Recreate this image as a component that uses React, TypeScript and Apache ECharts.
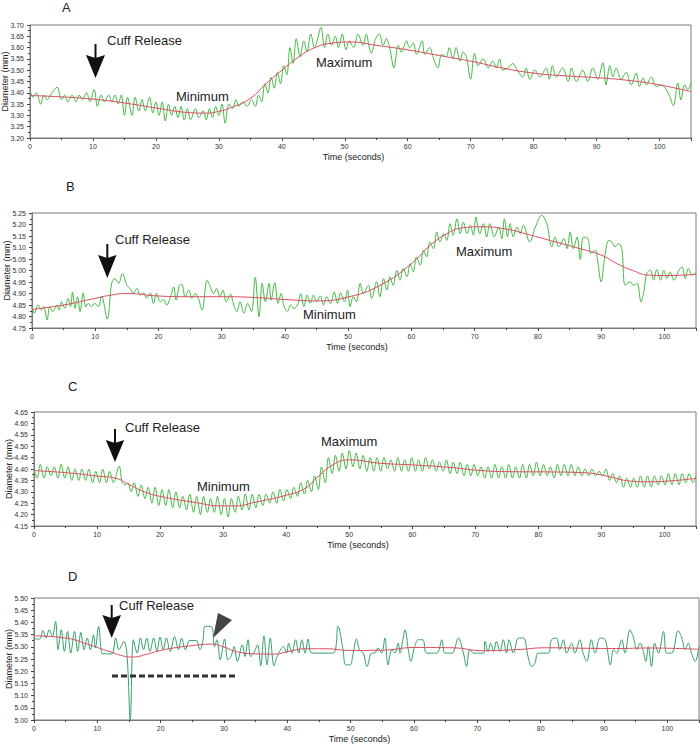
import React, { useEffect, useRef } from "react";
import * as echarts from "echarts";

const FONT = '"Liberation Sans", Arial, Helvetica, sans-serif';

// Panel letters and annotation labels
const panelLetters = ["A", "B", "C", "D"];
const cuffLabel = "Cuff Release";
const minLabel = "Minimum";
const maxLabel = "Maximum";
const xName = "Time (seconds)";
const yName = "Diameter (mm)";

// Axis ranges (mm)
const yMins = [3.2, 4.75, 4.15, 5.0];
const yMaxs = [3.7, 5.25, 4.65, 5.5];
const yStep = 0.05;
const xMax = 105;
const xStep = 10;

// Panel A
const greenA: [number, number][] = [
  [0, 3.41], [0.5, 3.38], [1, 3.4], [1.7, 3.35], [2.2, 3.39], [2.7, 3.37], [3.5, 3.4], [4.3, 3.425], [5, 3.37], [5.5, 3.39],
  [6, 3.36], [6.7, 3.39], [7.3, 3.36], [7.8, 3.39], [8.3, 3.37], [9, 3.4], [9.5, 3.36], [10.2, 3.415], [10.7, 3.34], [11.3, 3.39],
  [11.8, 3.36], [12.5, 3.39], [13, 3.36], [13.5, 3.39], [14, 3.35], [14.5, 3.39], [15, 3.3], [15.5, 3.38], [16.2, 3.3], [16.7, 3.38],
  [17.3, 3.32], [17.8, 3.37], [18.3, 3.32], [19, 3.38], [19.5, 3.31], [20, 3.36], [20.5, 3.3], [21, 3.36], [21.5, 3.275], [22, 3.35],
  [22.5, 3.3], [23, 3.34], [23.5, 3.29], [24, 3.34], [24.5, 3.28], [25, 3.33], [25.5, 3.28], [26.3, 3.33], [26.8, 3.29], [27.5, 3.32],
  [28, 3.28], [28.5, 3.33], [29, 3.29], [29.5, 3.34], [30, 3.3], [30.5, 3.35], [31, 3.265], [31.6, 3.35], [32.2, 3.33], [32.7, 3.37],
  [33.2, 3.34], [33.8, 3.36], [34.5, 3.34], [35.2, 3.37], [35.8, 3.34], [36.3, 3.39], [36.8, 3.36], [37.3, 3.44], [37.8, 3.4], [38.3, 3.47],
  [38.8, 3.42], [39.3, 3.49], [39.8, 3.44], [40.3, 3.52], [40.8, 3.48], [41.3, 3.6], [41.8, 3.53], [42.3, 3.64], [42.9, 3.56], [43.5, 3.63],
  [44, 3.58], [44.6, 3.66], [45.2, 3.6], [45.7, 3.64], [46.2, 3.69], [46.8, 3.6], [47.3, 3.66], [47.9, 3.61], [48.5, 3.65], [49, 3.6],
  [49.6, 3.66], [50.2, 3.59], [50.7, 3.63], [51.4, 3.6], [52.1, 3.66], [52.9, 3.61], [53.4, 3.66], [53.9, 3.6], [54.2, 3.575], [54.9, 3.64],
  [55.5, 3.66], [56.1, 3.61], [56.6, 3.64], [57.2, 3.59], [57.8, 3.51], [58.5, 3.61], [59, 3.58], [59.8, 3.63], [60.3, 3.6], [60.9, 3.62],
  [61.4, 3.57], [62.3, 3.63], [62.7, 3.57], [63.5, 3.6], [64, 3.56], [64.8, 3.51], [65.4, 3.57], [66.1, 3.56], [66.6, 3.6], [67.2, 3.55],
  [67.7, 3.6], [68.3, 3.54], [68.8, 3.58], [69.3, 3.56], [70, 3.46], [70.6, 3.575], [71.2, 3.52], [72, 3.55], [72.8, 3.51], [73.5, 3.54],
  [74.1, 3.51], [74.6, 3.55], [75.1, 3.5], [75.9, 3.51], [76.7, 3.53], [77.2, 3.51], [78.3, 3.47], [78.8, 3.51], [79.4, 3.46], [80.2, 3.5],
  [81, 3.47], [82, 3.51], [82.5, 3.46], [83, 3.52], [83.6, 3.47], [84.6, 3.51], [85.5, 3.45], [86, 3.51], [86.8, 3.45], [87.8, 3.5],
  [88.6, 3.45], [89.4, 3.51], [90.2, 3.46], [91, 3.534], [91.5, 3.435], [92.1, 3.52], [92.6, 3.47], [93.1, 3.51], [93.9, 3.46], [94.7, 3.49],
  [95.5, 3.435], [96.3, 3.487], [96.8, 3.428], [97.4, 3.465], [97.9, 3.435], [98.7, 3.47], [99.5, 3.428], [100.3, 3.435], [101.1, 3.413], [101.6, 3.384],
  [102.2, 3.343], [102.9, 3.443], [103.4, 3.369], [104, 3.435], [104.5, 3.413], [105, 3.446],
];
const redA: [number, number][] = [
  [0, 3.388], [5, 3.382], [10, 3.372], [15, 3.355], [20, 3.333], [25, 3.313], [28, 3.31], [30, 3.318], [32, 3.335], [35, 3.375],
  [37.5, 3.44], [40, 3.5], [42.5, 3.555], [45, 3.597], [48, 3.62], [51, 3.625], [55, 3.61], [60, 3.59], [65, 3.565], [70, 3.54],
  [75, 3.51], [80, 3.487], [85, 3.475], [90, 3.467], [95, 3.455], [100, 3.435], [105, 3.405],
];

// Panel B
const greenB: [number, number][] = [
  [0, 4.843], [0.4, 4.814], [0.95, 4.85], [1.5, 4.828], [1.85, 4.843], [2.4, 4.785], [2.8, 4.843], [3.3, 4.821], [3.9, 4.85], [4.3, 4.828],
  [4.65, 4.864], [5.2, 4.835], [5.7, 4.879], [6.1, 4.843], [6.4, 4.907], [6.8, 4.835], [7.2, 4.886], [7.6, 4.821], [8.1, 4.903], [8.5, 4.843],
  [8.9, 4.857], [9.4, 4.843], [9.9, 4.857], [10.5, 4.843], [11, 4.889], [11.9, 4.789], [12.6, 4.944], [13.1, 4.965], [13.7, 4.944], [14.3, 4.987],
  [15, 4.936], [15.6, 4.918], [16, 4.9], [16.6, 4.922], [17.1, 4.893], [17.7, 4.903], [18.1, 4.879], [18.7, 4.903], [19.2, 4.857], [19.7, 4.9],
  [20.3, 4.864], [20.8, 4.874], [21.3, 4.85], [21.9, 4.886], [22.4, 4.929], [22.8, 4.871], [23.3, 4.936], [23.7, 4.94], [24.2, 4.886], [24.8, 4.915],
  [25.3, 4.879], [25.8, 4.9], [26.3, 4.879], [26.9, 4.828], [27.7, 4.958], [28.2, 4.929], [28.7, 4.9], [29.2, 4.922], [29.7, 4.886], [30.2, 4.915],
  [30.7, 4.864], [31.4, 4.897], [31.8, 4.86], [32.4, 4.821], [32.9, 4.864], [33.5, 4.814], [34.1, 4.857], [34.7, 4.821], [35.3, 4.97], [35.9, 4.799],
  [36.4, 4.944], [36.9, 4.864], [37.5, 4.944], [37.8, 4.871], [38.4, 4.947], [38.9, 4.857], [39.4, 4.9], [39.8, 4.85], [40.4, 4.821], [40.9, 4.85],
  [41.4, 4.835], [42, 4.85], [42.5, 4.9], [43, 4.843], [43.5, 4.893], [44, 4.857], [44.5, 4.893], [45, 4.864], [45.6, 4.889], [46.1, 4.85],
  [46.6, 4.886], [47.2, 4.857], [47.8, 4.907], [48.3, 4.857], [48.8, 4.903], [49.4, 4.864], [49.9, 4.915], [50.3, 4.843], [50.8, 4.886], [51.3, 4.864],
  [51.9, 4.944], [52.4, 4.9], [53.2, 4.936], [53.7, 4.879], [54.5, 4.951], [55, 4.886], [55.6, 4.965], [56.1, 4.915], [56.6, 4.973], [57.1, 4.936],
  [57.7, 5.001], [58.2, 4.958], [58.7, 5.009], [59.3, 4.973], [59.8, 5.03], [60.3, 4.994], [60.8, 5.059], [61.4, 5.023], [61.9, 5.088], [62.4, 5.059],
  [62.9, 5.124], [63.5, 5.095], [64, 5.168], [64.5, 5.124], [65.1, 5.16], [65.6, 5.131], [66.1, 5.204], [66.6, 5.153], [67.2, 5.225], [67.7, 5.16],
  [68.2, 5.211], [68.8, 5.16], [69.3, 5.197], [69.8, 5.153], [70.2, 5.233], [70.8, 5.16], [71.4, 5.204], [71.9, 5.146], [72.4, 5.204], [73.1, 5.146],
  [73.8, 5.189], [74.3, 5.139], [74.7, 5.225], [75.2, 5.146], [75.6, 5.204], [76.1, 5.146], [76.7, 5.189], [77.2, 5.16], [77.7, 5.197], [78.7, 5.124],
  [79.6, 5.189], [80.6, 5.24], [81.4, 5.204], [82.2, 5.103], [82.7, 5.146], [83.3, 5.103], [84.1, 5.139], [84.6, 5.095], [85.1, 5.168], [85.6, 5.095],
  [86.2, 5.146], [86.7, 5.048], [87.2, 5.146], [87.9, 5.139], [88.4, 5.074], [89.1, 5.088], [89.4, 5.052], [90, 4.95], [90.6, 5.066], [91.2, 5.131],
  [91.7, 5.124], [92.2, 5.103], [92.8, 5.117], [93.3, 5.088], [93.8, 4.936], [94.6, 4.951], [95.1, 4.936], [95.7, 4.944], [96.3, 4.864], [96.8, 4.915],
  [97.2, 4.987], [97.8, 5.001], [98.3, 4.958], [98.8, 5.004], [99.4, 4.958], [99.9, 5.001], [100.4, 4.965], [100.9, 4.994], [101.5, 4.958], [102.3, 5.001],
  [102.8, 5.016], [103.3, 4.965], [103.8, 5.009], [104.4, 4.98], [105, 4.994],
];
const redB: [number, number][] = [
  [0, 4.831], [5, 4.85], [10, 4.879], [12.5, 4.893], [15, 4.9], [20, 4.889], [25, 4.886], [30, 4.886], [35, 4.883], [40, 4.874],
  [45, 4.868], [50, 4.885], [55, 4.935], [60, 5.03], [63, 5.11], [65.6, 5.16], [68, 5.185], [71, 5.19], [75, 5.18], [78, 5.16],
  [82, 5.13], [86, 5.1], [90, 5.067], [92.5, 5.03], [95, 5.0], [97.5, 4.98], [100, 4.978], [105, 4.983],
];

// Panel C
const greenC: [number, number][] = [
  [0, 4.4], [0.5, 4.36], [1, 4.42], [1.6, 4.36], [2.1, 4.41], [2.7, 4.37], [3.2, 4.41], [3.8, 4.36], [4.3, 4.42], [4.9, 4.36],
  [5.4, 4.41], [6, 4.35], [6.5, 4.4], [7.1, 4.35], [7.6, 4.4], [8.2, 4.35], [8.7, 4.4], [9.3, 4.34], [9.8, 4.39], [10.4, 4.34],
  [10.9, 4.4], [11.5, 4.34], [12, 4.39], [12.6, 4.34], [13.5, 4.413], [14, 4.34], [14.5, 4.33], [14.9, 4.34], [15.4, 4.3], [15.9, 4.34],
  [16.5, 4.28], [17, 4.33], [17.6, 4.27], [18.1, 4.32], [18.7, 4.25], [19.2, 4.32], [19.8, 4.24], [20.3, 4.31], [20.9, 4.24], [21.4, 4.31],
  [22, 4.23], [22.5, 4.3], [23.1, 4.23], [23.6, 4.28], [24.2, 4.22], [24.7, 4.29], [25.3, 4.21], [25.8, 4.28], [26.4, 4.2], [26.9, 4.28],
  [27.5, 4.21], [28, 4.27], [28.6, 4.21], [29.1, 4.28], [29.7, 4.2], [30.2, 4.27], [30.8, 4.19], [31.3, 4.27], [31.9, 4.21], [32.4, 4.28],
  [33, 4.22], [33.5, 4.29], [34.1, 4.22], [34.6, 4.29], [35.2, 4.23], [35.7, 4.29], [36.3, 4.24], [36.8, 4.29], [37.4, 4.25], [37.9, 4.3],
  [38.5, 4.25], [39, 4.31], [39.6, 4.26], [40.1, 4.31], [40.7, 4.27], [41.2, 4.32], [41.8, 4.28], [42.3, 4.34], [42.9, 4.29], [43.4, 4.35],
  [44, 4.3], [44.5, 4.37], [45.1, 4.31], [45.6, 4.41], [46.2, 4.34], [46.7, 4.45], [47.3, 4.38], [47.8, 4.46], [48.4, 4.39], [48.9, 4.47],
  [49.5, 4.4], [50, 4.48], [50.6, 4.41], [51.1, 4.47], [51.7, 4.4], [52.2, 4.46], [52.8, 4.39], [53.3, 4.45], [53.9, 4.39], [54.4, 4.45],
  [55, 4.39], [55.5, 4.45], [56.1, 4.4], [56.6, 4.44], [57.2, 4.39], [57.7, 4.45], [58.3, 4.39], [58.8, 4.44], [59.4, 4.39], [59.9, 4.45],
  [60.5, 4.39], [61, 4.44], [61.6, 4.39], [62.1, 4.45], [62.7, 4.4], [63.2, 4.44], [63.8, 4.39], [64.3, 4.43], [64.9, 4.39], [65.4, 4.44],
  [66, 4.38], [66.5, 4.43], [67.1, 4.38], [67.6, 4.43], [68.2, 4.37], [68.7, 4.42], [69.3, 4.37], [69.8, 4.42], [70.4, 4.37], [70.9, 4.41],
  [71.5, 4.36], [72, 4.41], [72.6, 4.36], [73.1, 4.42], [73.7, 4.36], [74.2, 4.41], [74.8, 4.36], [75.3, 4.42], [75.9, 4.36], [76.4, 4.41],
  [77, 4.36], [77.5, 4.42], [78.1, 4.36], [78.6, 4.42], [79.2, 4.37], [79.7, 4.43], [80.3, 4.37], [80.8, 4.42], [81.4, 4.37], [81.9, 4.41],
  [82.5, 4.36], [83, 4.42], [83.6, 4.37], [84.1, 4.42], [84.7, 4.37], [85.2, 4.42], [85.8, 4.37], [86.3, 4.41], [86.9, 4.37], [87.4, 4.4],
  [88, 4.37], [88.5, 4.4], [89.1, 4.37], [89.6, 4.39], [90.2, 4.37], [90.7, 4.4], [91.3, 4.35], [91.8, 4.38], [92.4, 4.34], [92.9, 4.37],
  [93.5, 4.32], [94, 4.36], [94.6, 4.32], [95.1, 4.36], [95.7, 4.32], [96.2, 4.37], [96.8, 4.32], [97.3, 4.37], [97.9, 4.32], [98.4, 4.37],
  [99, 4.33], [99.5, 4.37], [100.1, 4.33], [100.6, 4.38], [101.2, 4.33], [101.7, 4.38], [102.3, 4.33], [102.8, 4.38], [103.4, 4.34], [103.9, 4.38],
  [104.5, 4.34], [105, 4.37],
];
const redC: [number, number][] = [
  [0, 4.393], [5, 4.384], [10, 4.369], [13, 4.359], [15, 4.333], [17.5, 4.3], [20, 4.28], [25, 4.256], [30, 4.238], [32, 4.238],
  [35, 4.254], [40, 4.285], [43, 4.315], [45, 4.365], [47.5, 4.42], [50, 4.44], [55, 4.425], [60, 4.418], [66, 4.407], [71, 4.393],
  [76, 4.388], [82, 4.387], [87, 4.384], [91, 4.368], [94, 4.349], [97, 4.344], [101, 4.348], [105, 4.359],
];

// Panel D
const greenD: [number, number][] = [
  [0, 5.332], [0.9, 5.332], [1.4, 5.367], [1.9, 5.336], [2.4, 5.37], [2.9, 5.342], [3.4, 5.404], [3.8, 5.288], [4.3, 5.37], [4.8, 5.281],
  [5.3, 5.363], [5.8, 5.274], [6.4, 5.363], [6.9, 5.281], [7.4, 5.359], [7.9, 5.288], [8.4, 5.336], [8.9, 5.288], [9.4, 5.349], [9.7, 5.295],
  [10.2, 5.384], [10.8, 5.271], [11.4, 5.271], [12.3, 5.271], [12.9, 5.336], [13.4, 5.288], [14.2, 5.322], [14.7, 5.26], [15.2, 5.0], [15.7, 5.329],
  [16.3, 5.274], [16.8, 5.336], [17.3, 5.288], [17.8, 5.336], [18.3, 5.281], [18.9, 5.336], [19.4, 5.281], [19.9, 5.34], [20.4, 5.288], [20.9, 5.336],
  [21.5, 5.281], [22.2, 5.342], [22.8, 5.288], [23.3, 5.336], [23.9, 5.288], [24.6, 5.326], [25.6, 5.326], [26.2, 5.288], [26.7, 5.329], [27, 5.384],
  [28, 5.384], [28.5, 5.301], [28.9, 5.329], [29.4, 5.247], [30.1, 5.332], [30.6, 5.247], [31.1, 5.26], [31.6, 5.301], [32.1, 5.24], [32.9, 5.308],
  [33.3, 5.26], [33.8, 5.329], [34.2, 5.26], [34.7, 5.274], [35.3, 5.308], [35.8, 5.222], [36.3, 5.345], [36.8, 5.226], [37.3, 5.336], [37.9, 5.222],
  [38.4, 5.26], [39.4, 5.301], [39.9, 5.274], [40.2, 5.315], [40.7, 5.274], [41.3, 5.329], [41.8, 5.274], [42.3, 5.329], [42.8, 5.274], [43.3, 5.332],
  [43.9, 5.274], [47.2, 5.274], [48, 5.384], [48.8, 5.288], [49.2, 5.226], [49.9, 5.226], [50.4, 5.274], [50.9, 5.332], [51.4, 5.288], [52, 5.274],
  [52.6, 5.219], [53.3, 5.274], [53.8, 5.274], [54.3, 5.295], [54.9, 5.274], [55.4, 5.336], [55.9, 5.226], [56.5, 5.288], [57, 5.274], [57.5, 5.315],
  [57.8, 5.274], [58.2, 5.322], [58.6, 5.37], [59.1, 5.288], [59.5, 5.24], [60.1, 5.301], [60.7, 5.329], [61.4, 5.329], [62, 5.274], [63.6, 5.274],
  [64.4, 5.329], [64.9, 5.274], [66, 5.274], [67, 5.336], [67.8, 5.274], [68.3, 5.219], [68.8, 5.288], [69.4, 5.274], [71, 5.274], [71.2, 5.322],
  [71.7, 5.281], [72.1, 5.315], [72.6, 5.281], [73, 5.322], [73.6, 5.281], [74.1, 5.329], [74.6, 5.274], [75, 5.329], [75.7, 5.274], [76.5, 5.336],
  [77.3, 5.336], [78, 5.26], [78.6, 5.219], [79.1, 5.233], [79.6, 5.274], [81.2, 5.274], [81.7, 5.329], [82.5, 5.336], [83, 5.288], [83.6, 5.329],
  [84.1, 5.274], [84.9, 5.315], [85.4, 5.274], [86.2, 5.329], [86.7, 5.274], [87.3, 5.24], [88, 5.329], [88.6, 5.274], [89.4, 5.336], [90.2, 5.329],
  [91, 5.226], [91.5, 5.288], [92, 5.274], [92.8, 5.329], [93.3, 5.274], [94.1, 5.37], [94.6, 5.342], [95.2, 5.288], [95.7, 5.315], [96.2, 5.281],
  [96.6, 5.24], [97, 5.301], [97.5, 5.219], [98, 5.315], [98.6, 5.274], [99.4, 5.363], [99.9, 5.274], [100.7, 5.274], [101.7, 5.366], [102.3, 5.336],
  [102.8, 5.288], [103.3, 5.315], [103.8, 5.274], [104.4, 5.24], [105, 5.301],
];
const redD: [number, number][] = [
  [0, 5.345], [5, 5.336], [8, 5.315], [10, 5.297], [12, 5.28], [14, 5.263], [15.5, 5.258], [18, 5.271], [20, 5.285], [22, 5.295],
  [25, 5.305], [28, 5.311], [30, 5.299], [32, 5.28], [35, 5.271], [38, 5.27], [40, 5.28], [43, 5.292], [46, 5.292], [50, 5.285],
  [55, 5.286], [60, 5.297], [66, 5.296], [71, 5.284], [76, 5.288], [81, 5.296], [87, 5.294], [92, 5.293], [97, 5.295], [105, 5.29],
];

const greens = [greenA, greenB, greenC, greenD];
const reds = [redA, redB, redC, redD];

export default function App() {
  const ref = useRef<HTMLDivElement>(null);

  useEffect(() => {
    if (!ref.current) return;
    const chart = echarts.init(ref.current, null, { renderer: "svg" });

    const grids = [
      { left: 30, top: 25, width: 661, height: 113 },
      { left: 32, top: 213, width: 664, height: 115 },
      { left: 34, top: 412, width: 662, height: 114 },
      { left: 34, top: 598, width: 665, height: 122 },
    ];
    const yNameGaps = [21, 21, 21, 21];
    const greenColors = ["#45b945", "#45b945", "#45b945", "#34a068"];
    const redColor = "#dc4a5e";
    const frame = "#7a7a7a";
    const tickColor = "#444";

    const xAxes = grids.map((_, i) => ({
      type: "value",
      gridIndex: i,
      min: 0,
      max: xMax,
      interval: xStep,
      name: xName,
      nameLocation: "middle",
      nameGap: 14,
      nameMoveOverlap: false,
      nameTextStyle: { fontFamily: FONT, fontSize: 9, color: "#222", padding: [0, 14, 0, 0] },
      axisLine: { show: true, lineStyle: { color: frame, width: 1 } },
      axisTick: { show: true, length: 3, lineStyle: { color: tickColor } },
      minorTick: { show: true, splitNumber: 2, length: 2, lineStyle: { color: tickColor } },
      axisLabel: { fontFamily: FONT, fontSize: 7, color: "#333", margin: 5, showMaxLabel: false },
      splitLine: { show: false },
      minorSplitLine: { show: false },
    }));

    const yAxes = grids.map((_, i) => ({
      type: "value",
      gridIndex: i,
      min: yMins[i],
      max: yMaxs[i],
      interval: yStep,
      name: yName,
      nameLocation: "middle",
      nameGap: yNameGaps[i],
      nameMoveOverlap: false,
      nameTextStyle: { fontFamily: FONT, fontSize: 9, color: "#222" },
      axisLine: { show: true, lineStyle: { color: frame, width: 1 } },
      axisTick: { show: true, length: 3, lineStyle: { color: tickColor } },
      minorTick: { show: true, splitNumber: 2, length: 2, lineStyle: { color: tickColor } },
      axisLabel: {
        fontFamily: FONT,
        fontSize: 7,
        color: "#333",
        margin: 6,
        formatter: (v: number) => v.toFixed(2),
      },
      splitLine: { show: false },
      minorSplitLine: { show: false },
    }));

    const series: any[] = [];
    greens.forEach((g, i) => {
      series.push({
        type: "line",
        xAxisIndex: i,
        yAxisIndex: i,
        data: g,
        showSymbol: false,
        smooth: 0.35,
        lineStyle: { color: greenColors[i], width: 1 },
        z: 2,
      });
    });
    reds.forEach((r, i) => {
      series.push({
        type: "line",
        xAxisIndex: i,
        yAxisIndex: i,
        data: r,
        showSymbol: false,
        smooth: 0.5,
        lineStyle: { color: redColor, width: 1 },
        z: 3,
      });
    });

    const txt = (x: number, y: number, text: string, size: number) => ({
      type: "text",
      x,
      y,
      z: 100,
      style: {
        text,
        fontFamily: FONT,
        fontSize: size,
        fill: "#222",
        align: "left",
        verticalAlign: "middle",
      },
    });
    const arrow = (cx: number, stemTop: number, headTop: number, tip: number, hw: number) => [
      {
        type: "rect",
        z: 100,
        shape: { x: cx - 1, y: stemTop, width: 2, height: headTop - stemTop + 3 },
        style: { fill: "#111" },
      },
      {
        type: "polygon",
        z: 100,
        shape: { points: [[cx - hw, headTop], [cx, headTop + 3], [cx + hw, headTop], [cx, tip]] },
        style: { fill: "#111" },
      },
    ];

    const graphic: any[] = [
      txt(62, 7.5, panelLetters[0], 13),
      txt(66, 186, panelLetters[1], 13),
      txt(68, 386, panelLetters[2], 13),
      txt(68, 576, panelLetters[3], 13),
      // A
      txt(107, 40, cuffLabel, 13),
      txt(176, 96, minLabel, 13),
      txt(316, 62, maxLabel, 13),
      ...arrow(95.5, 44, 55, 78, 9.5),
      // B
      txt(115, 239, cuffLabel, 13),
      txt(303, 314, minLabel, 13),
      txt(456, 251, maxLabel, 13),
      ...arrow(107.3, 244, 255, 278, 9.2),
      // C
      txt(125, 427, cuffLabel, 13),
      txt(197, 486, minLabel, 13),
      txt(321, 441, maxLabel, 13),
      ...arrow(115, 429, 440, 462, 9.2),
      // D
      txt(119, 605, cuffLabel, 13),
      ...arrow(111.7, 605, 615, 638, 9.3),
      {
        type: "polygon",
        z: 100,
        shape: { points: [[213, 638], [218, 613], [232, 620]] },
        style: { fill: "#444" },
      },
      {
        type: "line",
        z: 100,
        shape: { x1: 112, y1: 676, x2: 236, y2: 676 },
        style: { stroke: "#333", lineWidth: 3, lineDash: [6, 3] },
      },
    ];

    chart.setOption({
      animation: false,
      backgroundColor: "#ffffff",
      grid: grids.map((g) => ({
        ...g,
        show: true,
        borderColor: frame,
        borderWidth: 1,
        backgroundColor: "transparent",
        containLabel: false,
        outerBoundsMode: "none",
      })),
      xAxis: xAxes,
      yAxis: yAxes,
      series,
      graphic,
    });

    return () => chart.dispose();
  }, []);

  return (
    <div
      ref={ref}
      style={{ position: "fixed", left: 0, top: 0, width: 700, height: 745, background: "#fff" }}
    />
  );
}
